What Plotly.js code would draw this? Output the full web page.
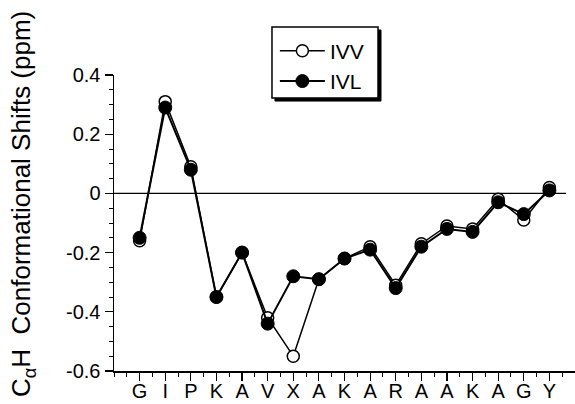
<!DOCTYPE html>
<html><head><meta charset="utf-8">
<script src="https://cdn.plot.ly/plotly-3.0.1.min.js"></script>
<style>html,body{margin:0;padding:0;background:#fff}#c{width:575px;height:404px}</style>
</head><body><div id="c"></div>
<script>
const residues = ["G","I","P","K","A","V","X","A","K","A","R","A","A","K","A","G","Y"];
const ivv = [-0.16, 0.31, 0.09, -0.35, -0.20, -0.42, -0.55, -0.29, -0.22, -0.18, -0.31, -0.17, -0.11, -0.12, -0.02, -0.09, 0.02];
const ivl = [-0.15, 0.29, 0.08, -0.35, -0.20, -0.44, -0.28, -0.29, -0.22, -0.19, -0.32, -0.18, -0.12, -0.13, -0.03, -0.07, 0.01];
const pos = residues.map((_, i) => i);

const font = "Liberation Sans, Arial, Helvetica, sans-serif";
const traces = [
  {x: pos, y: ivv, name: "IVV", type: "scatter", mode: "lines+markers",
   line: {color: "#000", width: 1.5},
   marker: {symbol: "circle", size: 12, color: "#fff", line: {color: "#000", width: 1.5}}},
  {x: pos, y: ivl, name: "IVL", type: "scatter", mode: "lines+markers",
   line: {color: "#000", width: 2},
   marker: {symbol: "circle", size: 13, color: "#000", line: {color: "#000", width: 1}}}
];
const layout = {
  width: 575, height: 404,
  margin: {l: 114, r: 0, t: 75, b: 33},
  paper_bgcolor: "#fff", plot_bgcolor: "#fff",
  font: {family: font, color: "#000", size: 18},
  showlegend: true,
  legend: {x: 0.349, y: 1.15, xanchor: "left", yanchor: "top", traceorder: "normal",
           bgcolor: "rgba(0,0,0,0)", borderwidth: 0,
           font: {family: font, size: 21}, itemwidth: 45},
  xaxis: {range: [-1, 17], tickvals: pos, ticktext: residues,
          showgrid: false, zeroline: false, showline: true, linecolor: "#000", linewidth: 1.5,
          ticks: "outside", ticklen: 8, tickwidth: 1.2, tickcolor: "#000",
          ticklabelstandoff: -7,
          tickfont: {family: font, size: 20},
          minor: {dtick: 0.5, tick0: -0.5, ticks: "outside", ticklen: 4, tickwidth: 1, tickcolor: "#000", showgrid: false}},
  yaxis: {range: [-0.6, 0.4], tickvals: [-0.6, -0.4, -0.2, 0, 0.2, 0.4],
          ticktext: ["-0.6", "-0.4", "-0.2", "0", "0.2", "0.4"],
          showgrid: false, zeroline: false, showline: true, linecolor: "#000", linewidth: 1.5,
          ticks: "outside", ticklen: 8, tickwidth: 1.2, tickcolor: "#000",
          tickfont: {family: font, size: 20},
          minor: {dtick: 0.05, tick0: 0, ticks: "outside", ticklen: 4, tickwidth: 1, tickcolor: "#000", showgrid: false}},
  shapes: [
    {type: "line", xref: "x", yref: "y", x0: -1, x1: 16.65, y0: 0, y1: 0,
     line: {color: "#000", width: 1.2}, layer: "below"},
    // legend box drop shadow and frame
    {type: "rect", xref: "paper", yref: "paper", x0: 0.3492, x1: 0.5792, y0: 0.912, y1: 1.152,
     fillcolor: "#000", line: {color: "#000", width: 1}, layer: "above"},
    {type: "rect", xref: "paper", yref: "paper", x0: 0.3427, x1: 0.5727, y0: 0.9223, y1: 1.1622,
     fillcolor: "#fff", line: {color: "#000", width: 1.5}, layer: "above"}
  ],
  annotations: [
    {xref: "paper", yref: "paper", x: -0.197, y: 0.565, xanchor: "center", yanchor: "middle",
     textangle: -90, showarrow: false,
     text: "C<sub>α</sub>H  Conformational Shifts (ppm)",
     font: {family: font, size: 26}}
  ]
};
Plotly.newPlot("c", traces, layout, {staticPlot: true});
</script></body></html>
